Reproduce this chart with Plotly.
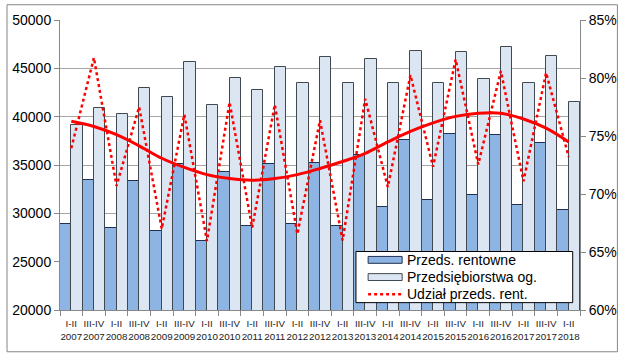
import plotly.graph_objects as go

periods = ["I-II", "III-IV"] * 11 + ["I-II"]
years = [str(y) for y in range(2007, 2018) for _ in range(2)] + ["2018"]
categories = [f"{p}<br>{y}" for p, y in zip(periods, years)]

rentowne = [28900, 33400, 28450, 33300, 28150, 35100, 27150, 34230, 28650, 35120,
            28900, 35220, 28660, 36040, 30650, 37550, 31420, 38170, 31870, 38070,
            30880, 37280, 30330]
ogolem = [39090, 40880, 40300, 42950, 42030, 45660, 41220, 43960, 42740, 45150,
          43460, 46130, 43490, 45990, 43460, 46810, 43490, 46710, 43900, 47220,
          43460, 46310, 41530]
udzial = [73.95, 81.75, 70.7, 77.5, 67.0, 76.85, 65.95, 77.9, 67.1, 77.7,
          66.55, 76.35, 66.0, 78.2, 70.6, 80.25, 72.35, 81.6, 72.55, 80.6,
          71.1, 80.45, 73.2]
trend = [76.27, 75.82, 75.11, 74.15, 73.08, 72.29, 71.67, 71.33, 71.19, 71.33,
         71.67, 72.2, 72.8, 73.5, 74.49, 75.4, 76.13, 76.69, 76.97, 76.97,
         76.47, 75.68, 74.49]
legend_names = ["Przeds. rentowne", "Przedsiębiorstwa og.", "Udział przeds. rent."]

FONT = "Liberation Sans, Arial, sans-serif"
DARK, DARK_LINE = "#8DB4E2", "#1F3050"
LIGHT, LIGHT_LINE = "#DCE6F2", "#404850"
RED = "#FF0000"

fig = go.Figure()
fig.add_trace(go.Bar(x=categories, y=rentowne, name=legend_names[0],
                     marker=dict(color=DARK, line=dict(color=DARK_LINE, width=1))))
fig.add_trace(go.Bar(x=categories, y=ogolem, name=legend_names[1],
                     marker=dict(color=LIGHT, line=dict(color=LIGHT_LINE, width=1))))
fig.add_trace(go.Scatter(x=categories, y=udzial, name=legend_names[2], yaxis="y2",
                         mode="lines", line=dict(color=RED, width=2.5, dash="dot")))
fig.add_trace(go.Scatter(x=categories, y=trend, yaxis="y2", name="trend",
                         mode="lines", line=dict(color=RED, width=3, shape="spline"),
                         hoverinfo="skip"))

W, H = 629, 354
ml, mr, mt, mb = 55, 39, 16, 43
pw, ph = W - ml - mr, H - mt - mb


def px(x):
    return (x - ml) / pw


def py(y):
    return (H - mb - y) / ph


shapes = [dict(type="rect", xref="paper", yref="paper",
               x0=px(0.5), x1=px(W - 0.5), y0=py(H - 0.5), y1=py(0.5),
               line=dict(color="#868686", width=1), layer="above")]
annotations = []

# custom legend box
lx0, lx1, ly0, ly1 = 359.5, 582.5, 251.5, 303.5
shapes.append(dict(type="rect", xref="paper", yref="paper",
                   x0=px(lx0), x1=px(lx1), y0=py(ly1), y1=py(ly0),
                   fillcolor="white", line=dict(color="black", width=1), layer="above"))
rows = [260, 277.5, 295]
sw0, sw1 = 372, 407
shapes.append(dict(type="rect", xref="paper", yref="paper",
                   x0=px(sw0), x1=px(sw1), y0=py(rows[0] + 3.5), y1=py(rows[0] - 3.5),
                   fillcolor=DARK, line=dict(color=DARK_LINE, width=1), layer="above"))
shapes.append(dict(type="rect", xref="paper", yref="paper",
                   x0=px(sw0), x1=px(sw1), y0=py(rows[1] + 3.5), y1=py(rows[1] - 3.5),
                   fillcolor=LIGHT, line=dict(color=LIGHT_LINE, width=1), layer="above"))
shapes.append(dict(type="line", xref="paper", yref="paper",
                   x0=px(sw0), x1=px(sw1), y0=py(rows[2]), y1=py(rows[2]),
                   line=dict(color=RED, width=2.5, dash="dot"), layer="above"))
for name, r in zip(legend_names, rows):
    annotations.append(dict(xref="paper", yref="paper", x=px(410), y=py(r),
                            xanchor="left", yanchor="middle", text=name, showarrow=False,
                            font=dict(size=14, color="black", family=FONT)))

fig.update_layout(
    width=W, height=H,
    margin=dict(l=ml, r=mr, t=mt, b=mb),
    paper_bgcolor="white", plot_bgcolor="white",
    barmode="group", bargap=0, bargroupgap=0,
    font=dict(family=FONT, color="black"),
    showlegend=False,
    xaxis=dict(type="category", tickson="boundaries", ticks="outside", ticklen=5,
               tickcolor="#888888", showline=True, linecolor="#888888", linewidth=1,
               showgrid=False, tickangle=0, ticklabelstandoff=4,
               tickfont=dict(size=9.8, color="#222222")),
    yaxis=dict(range=[20000, 50000], dtick=5000, tickformat="d", showgrid=True,
               gridcolor="#A6A6A6", gridwidth=1, showline=True, linecolor="#888888",
               ticks="outside", ticklen=5, tickcolor="#888888", tickfont=dict(size=14),
               zeroline=False),
    yaxis2=dict(range=[60, 85], dtick=5, overlaying="y", side="right", showgrid=False,
                ticksuffix="%", showline=True, linecolor="#888888", ticks="outside",
                ticklen=5, tickcolor="#888888", tickfont=dict(size=14), zeroline=False),
    shapes=shapes,
    annotations=annotations,
)

fig.write_html("out.html")
